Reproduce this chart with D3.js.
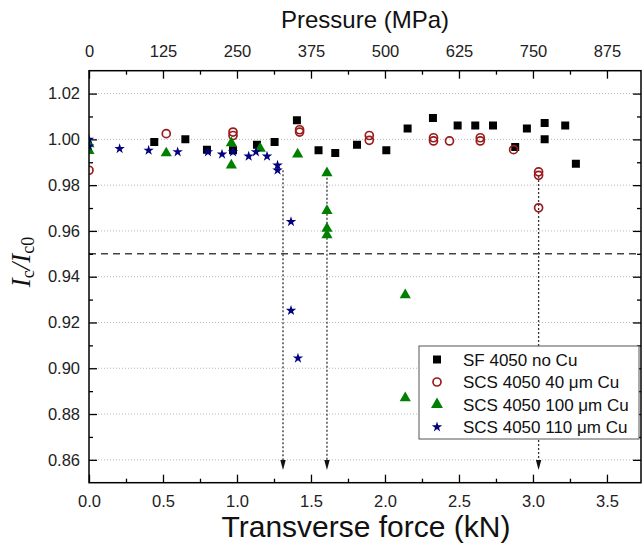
<!DOCTYPE html>
<html><head><meta charset="utf-8">
<script src="https://cdn.jsdelivr.net/npm/d3@7"></script>
<style>body{margin:0;background:#fff} svg{display:block}</style>
</head><body><svg id="c" width="643" height="549"></svg>
<script>
// ---- data (force in kN, Ic/Ic0) ----
const sfForce = [0.441,0.651,0.797,0.973,1.135,1.254,1.405,1.551,1.664,1.811,2.009,2.153,2.324,2.491,2.610,2.730,2.880,2.959,3.079,3.079,3.218,3.290];
const sfRatio = [0.9988,1.0000,0.9955,0.9952,0.9977,0.9988,1.0083,0.9952,0.9940,0.9977,0.9952,1.0047,1.0093,1.0061,1.0061,1.0061,0.9967,1.0047,1.0071,1.0000,1.0061,0.9894];

const cu40Force = [0,0.522,0.973,0.973,1.423,1.423,1.894,1.894,2.328,2.328,2.436,2.644,2.644,2.869,3.038,3.038,3.038];
const cu40Ratio = [0.9865,1.0025,1.0032,1.0017,1.0042,1.0032,1.0017,0.9996,1.0007,0.9993,0.9993,1.0007,0.9993,0.9955,0.9858,0.9843,0.9701];

const cu100Force = [0,0,0.522,0.962,0.962,1.157,1.410,1.608,1.608,1.608,1.608,2.137,2.137];
const cu100Ratio = [0.9980,0.9950,0.9940,0.9984,0.9887,0.9960,0.9935,0.9853,0.9688,0.9611,0.9582,0.9320,0.8870];

const cu110Force = [0,0,0.207,0.403,0.599,0.804,0.899,0.973,1.079,1.128,1.203,1.274,1.274,1.365,1.365,1.412];
const cu110Ratio = [1.0000,0.9970,0.9959,0.9952,0.9945,0.9945,0.9935,0.9945,0.9926,0.9945,0.9926,0.9887,0.9865,0.9640,0.9252,0.9044];

const arrowForce = [1.311,1.608,3.038];
const arrowTop = [0.9865,0.9850,0.9840];
const arrowEnd = 0.8556;
const limitRatio = 0.95;

const forceTicks = [0,0.5,1.0,1.5,2.0,2.5,3.0,3.5];
const forceMinor = [0.25,0.75,1.25,1.75,2.25,2.75,3.25];
const pressureTicks = [0,125,250,375,500,625,750,875];
const pressureMinor = [62.5,187.5,312.5,437.5,562.5,687.5,812.5];
const ratioTicks = [0.86,0.88,0.90,0.92,0.94,0.96,0.98,1.00,1.02];
const ratioMinor = [0.87,0.89,0.91,0.93,0.95,0.97,0.99,1.01];

const legendLabels = ["SF 4050 no Cu","SCS 4050 40 \u03BCm Cu","SCS 4050 100 \u03BCm Cu","SCS 4050 110 \u03BCm Cu"];

// ---- layout ----
const svg = d3.select("#c");
const L=89, R=641, T=70.7, B=482.7;
const FONT = "Arial, 'Liberation Sans', sans-serif";
const x = d3.scaleLinear().domain([0,3.73]).range([L,R]);
const xp = d3.scaleLinear().domain([0,3.73*250]).range([L,R]);
const y = d3.scaleLinear().domain([0.85,1.03]).range([B,T]);

const cRed="#9b1c1c", cGreen="#008000", cBlue="#000080";

// grid
svg.append("g").selectAll("line").data(ratioTicks).join("line")
  .attr("x1",L).attr("x2",R).attr("y1",d=>y(d)).attr("y2",d=>y(d))
  .attr("stroke","#b8b8b8").attr("stroke-width",1).attr("stroke-dasharray","1,2");

// dashed limit line
svg.append("line").attr("x1",L).attr("x2",R).attr("y1",y(limitRatio)).attr("y2",y(limitRatio))
  .attr("stroke","#444").attr("stroke-width",1.5).attr("stroke-dasharray","7,5");

// arrows
const ag = svg.append("g");
arrowForce.forEach((f,i)=>{
  ag.append("line").attr("x1",x(f)).attr("x2",x(f)).attr("y1",y(arrowTop[i])).attr("y2",y(arrowEnd)-8)
    .attr("stroke","#333").attr("stroke-width",1.3).attr("stroke-dasharray","2,2");
  const xe=x(f), ye=y(arrowEnd);
  ag.append("path").attr("d",`M${xe-2.7},${ye-10}L${xe+2.7},${ye-10}L${xe},${ye}Z`).attr("fill","#111");
});

// axes
function styleAxis(g, fs){
  g.select(".domain").remove();
  g.attr("font-family",FONT).attr("font-size",fs);
  g.selectAll(".tick line").attr("stroke","#000").attr("stroke-width",1.3);
  g.selectAll("text").attr("fill","#222");
}
svg.append("g").attr("transform",`translate(0,${B})`)
  .call(d3.axisBottom(x).tickValues(forceTicks).tickFormat(d3.format(".1f")).tickSize(-8).tickPadding(13))
  .call(g=>styleAxis(g,16.5));
svg.append("g").attr("transform",`translate(0,${B})`)
  .call(d3.axisBottom(x).tickValues(forceMinor).tickFormat("").tickSize(-4))
  .call(g=>styleAxis(g,10));
svg.append("g").attr("transform",`translate(0,${T})`)
  .call(d3.axisTop(xp).tickValues(pressureTicks).tickFormat(d3.format("d")).tickSize(-8).tickPadding(14))
  .call(g=>styleAxis(g,16.5));
svg.append("g").attr("transform",`translate(0,${T})`)
  .call(d3.axisTop(xp).tickValues(pressureMinor).tickFormat("").tickSize(-4))
  .call(g=>styleAxis(g,10));
svg.append("g").attr("transform",`translate(${L},0)`)
  .call(d3.axisLeft(y).tickValues(ratioTicks).tickFormat(d3.format(".2f")).tickSize(-8).tickPadding(9))
  .call(g=>styleAxis(g,16.5));
svg.append("g").attr("transform",`translate(${L},0)`)
  .call(d3.axisLeft(y).tickValues(ratioMinor).tickFormat("").tickSize(-4))
  .call(g=>styleAxis(g,10));
svg.append("g").attr("transform",`translate(${R},0)`)
  .call(d3.axisRight(y).tickValues(ratioTicks).tickFormat("").tickSize(-8))
  .call(g=>styleAxis(g,10));
svg.append("g").attr("transform",`translate(${R},0)`)
  .call(d3.axisRight(y).tickValues(ratioMinor).tickFormat("").tickSize(-4))
  .call(g=>styleAxis(g,10));

// clip
svg.append("clipPath").attr("id","clip").append("rect").attr("x",L).attr("y",T).attr("width",R-L).attr("height",B-T);
const pg = svg.append("g").attr("clip-path","url(#clip)");

const sq = d3.symbol(d3.symbolSquare,64)();
const tri = d3.symbol(d3.symbolTriangle,54)();
const star = d3.symbol(d3.symbolStar,34)();

pg.append("g").selectAll("path").data(sfForce.map((f,i)=>[f,sfRatio[i]])).join("path")
  .attr("d",sq).attr("transform",d=>`translate(${x(d[0])},${y(d[1])})`).attr("fill","#000");
pg.append("g").selectAll("circle").data(cu40Force.map((f,i)=>[f,cu40Ratio[i]])).join("circle")
  .attr("cx",d=>x(d[0])).attr("cy",d=>y(d[1])).attr("r",4).attr("fill","none").attr("stroke",cRed).attr("stroke-width",1.7);
pg.append("g").selectAll("path").data(cu100Force.map((f,i)=>[f,cu100Ratio[i]])).join("path")
  .attr("d",tri).attr("transform",d=>`translate(${x(d[0])},${y(d[1])})`).attr("fill",cGreen);
pg.append("g").selectAll("path").data(cu110Force.map((f,i)=>[f,cu110Ratio[i]])).join("path")
  .attr("d",star).attr("transform",d=>`translate(${x(d[0])},${y(d[1])})`).attr("fill",cBlue);

// frame
svg.append("rect").attr("x",L).attr("y",T).attr("width",R-L).attr("height",B-T)
  .attr("fill","none").attr("stroke","#000").attr("stroke-width",1.5);

// legend
const lg = svg.append("g");
lg.append("rect").attr("x",419).attr("y",346).attr("width",220).attr("height",93)
  .attr("fill","#fff").attr("stroke","#555").attr("stroke-width",1);
const rowsY=[359.5,382,404.5,427];
legendLabels.forEach((t,i)=>{
  const cy=rowsY[i], cx=437;
  if(i===0) lg.append("path").attr("d",sq).attr("transform",`translate(${cx},${cy})`).attr("fill","#000");
  if(i===1) lg.append("circle").attr("cx",cx).attr("cy",cy).attr("r",4).attr("fill","none").attr("stroke",cRed).attr("stroke-width",1.7);
  if(i===2) lg.append("path").attr("d",d3.symbol(d3.symbolTriangle,62)()).attr("transform",`translate(${cx},${cy})`).attr("fill",cGreen);
  if(i===3) lg.append("path").attr("d",star).attr("transform",`translate(${cx},${cy})`).attr("fill",cBlue);
  lg.append("text").attr("x",463).attr("y",cy+6).attr("font-family",FONT).attr("font-size",17).attr("fill","#111").text(t);
});

// titles
svg.append("text").attr("x",(L+R)/2).attr("y",28).attr("text-anchor","middle")
  .attr("font-family",FONT).attr("font-size",24).attr("fill","#111").text("Pressure (MPa)");
svg.append("text").attr("x",366).attr("y",537).attr("text-anchor","middle")
  .attr("font-family",FONT).attr("font-size",30).attr("fill","#111").text("Transverse force (kN)");
const yt = svg.append("text").attr("transform","translate(30,262) rotate(-90)").attr("text-anchor","middle")
  .attr("font-family","'Times New Roman', 'Liberation Serif', serif").attr("font-style","italic").attr("font-size",27).attr("fill","#111");
yt.append("tspan").text("I");
yt.append("tspan").attr("font-size",18).attr("font-style","normal").attr("dy",4).text("c");
yt.append("tspan").attr("dy",-4).text("/I");
yt.append("tspan").attr("font-size",18).attr("font-style","normal").attr("dy",4).text("c0");
</script></body></html>
